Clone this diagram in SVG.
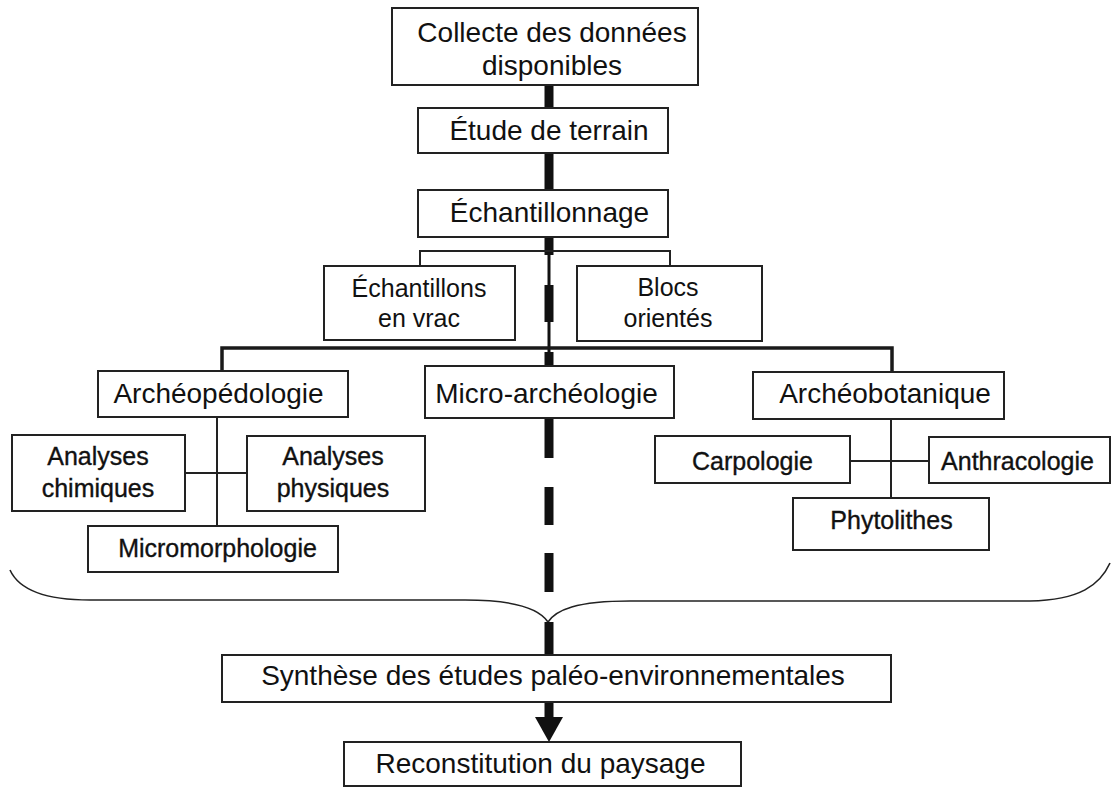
<svg xmlns="http://www.w3.org/2000/svg" width="1112" height="788" viewBox="0 0 1112 788">
<style>
.box{fill:#fff;stroke:#222;stroke-width:2}
.t{font-family:"Liberation Sans",Arial,sans-serif;fill:#111;text-anchor:middle}
.L{font-size:28px}
.S{font-size:25px}
.H{font-size:25px;stroke:#111;stroke-width:0.35}
.thin{stroke:#222;stroke-width:2;fill:none}
.med{stroke:#1a1a1a;stroke-width:3.5;fill:none}
.thick{stroke:#111;stroke-width:9;fill:none}
.spine{stroke:#111;stroke-width:3;fill:none}
</style>
<rect width="1112" height="788" fill="#fff"/>
<g id="connectors">
  <line class="thick" x1="549" y1="85" x2="549" y2="108"/>
  <line class="thick" x1="549" y1="153" x2="549" y2="190"/>
  <line class="spine" x1="549" y1="237" x2="549" y2="366"/>
  <line class="thick" x1="549" y1="237" x2="549" y2="255"/>
  <line class="thick" x1="549" y1="285" x2="549" y2="322"/>
  <line class="thick" x1="549" y1="352" x2="549" y2="366"/>
  <line class="thick" x1="549" y1="418" x2="549" y2="458"/>
  <line class="thick" x1="549" y1="487" x2="549" y2="525"/>
  <line class="thick" x1="549" y1="553" x2="549" y2="592"/>
  <polyline class="thin" points="420,266 420,251 670,251 670,266"/>
  <polyline class="med" points="222,371 222,348 892,348 892,372"/>
  <line class="thin" x1="217" y1="417" x2="217" y2="526"/>
  <line class="thin" x1="185" y1="473" x2="247" y2="473"/>
  <line class="thin" x1="891" y1="419" x2="891" y2="498"/>
  <line class="thin" x1="850" y1="461" x2="929" y2="461"/>
  <path d="M10 570 C20 592 50 600 90 600 L465 600 C520 600 540 610 548 622 C556 610 576 601 630 601 L1030 601 C1080 600 1100 585 1110 563" fill="none" stroke="#222" stroke-width="1.6"/>
  <line class="thick" x1="549" y1="622" x2="549" y2="655"/>
  <line class="thick" x1="549" y1="702" x2="549" y2="718"/>
  <polygon points="535,717 563,717 549,742" fill="#111"/>
</g>
<g id="collecte"><rect class="box" x="392" y="8" width="306" height="77"/><text class="t L" x="552" y="42">Collecte des données</text><text class="t L" x="552" y="75">disponibles</text></g>
<g id="etude"><rect class="box" x="418" y="108" width="250" height="45"/><text class="t L" x="549" y="140">Étude de terrain</text></g>
<g id="echantillonnage"><rect class="box" x="418" y="190" width="250" height="47"/><text class="t L" x="549.5" y="222">Échantillonnage</text></g>
<g id="vrac"><rect class="box" x="324" y="266" width="191" height="74"/><text class="t S" x="419" y="297">Échantillons</text><text class="t S" x="419" y="327">en vrac</text></g>
<g id="blocs"><rect class="box" x="577" y="266" width="185" height="75"/><text class="t S" x="668" y="296">Blocs</text><text class="t S" x="668" y="327">orientés</text></g>
<g id="archeopedologie"><rect class="box" x="98" y="371" width="250" height="46"/><text class="t L" x="218.5" y="403">Archéopédologie</text></g>
<g id="microarcheologie"><rect class="box" x="425" y="366" width="249" height="52"/><text class="t L" x="546.5" y="403">Micro-archéologie</text></g>
<g id="archeobotanique"><rect class="box" x="753" y="372" width="251" height="47"/><text class="t L" x="885" y="403">Archéobotanique</text></g>
<g id="chimiques"><rect class="box" x="12" y="435" width="173" height="76"/><text class="t H" x="98" y="465">Analyses</text><text class="t H" x="98" y="497">chimiques</text></g>
<g id="physiques"><rect class="box" x="247" y="436" width="178" height="75"/><text class="t H" x="333" y="465">Analyses</text><text class="t H" x="333" y="497">physiques</text></g>
<g id="micromorphologie"><rect class="box" x="88" y="526" width="250" height="46"/><text class="t H" x="217.5" y="557">Micromorphologie</text></g>
<g id="carpologie"><rect class="box" x="655" y="436" width="195" height="47"/><text class="t H" x="752.5" y="470">Carpologie</text></g>
<g id="anthracologie"><rect class="box" x="929" y="437" width="181" height="46"/><text class="t H" x="1017.5" y="470">Anthracologie</text></g>
<g id="phytolithes"><rect class="box" x="793" y="498" width="196" height="52"/><text class="t H" x="891.5" y="529">Phytolithes</text></g>
<g id="synthese"><rect class="box" x="222" y="655" width="669" height="47"/><text class="t L" x="553" y="685" font-size="28.5">Synthèse des études paléo-environnementales</text></g>
<g id="reconstitution"><rect class="box" x="344" y="742" width="397" height="44"/><text class="t L" x="540.5" y="773">Reconstitution du paysage</text></g>
</svg>
